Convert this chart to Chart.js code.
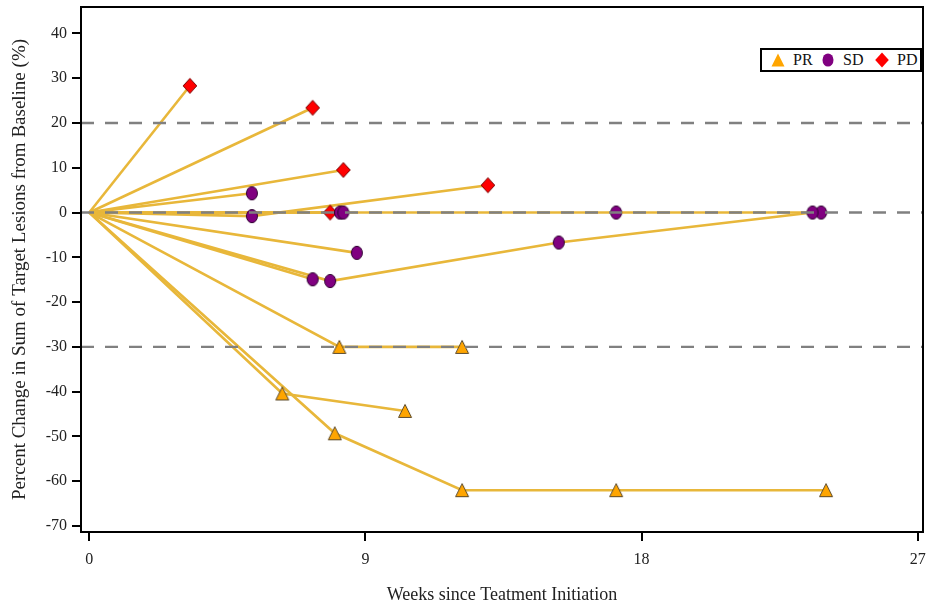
<!DOCTYPE html>
<html>
<head>
<meta charset="utf-8">
<script src="https://cdn.jsdelivr.net/npm/chart.js@4"></script>
<style>
  html, body { margin: 0; padding: 0; background: #fff; }
  #wrap { position: relative; width: 928px; height: 607px; }
  #legend {
    position: absolute; left: 760px; top: 48px; width: 162px; height: 24px;
    box-sizing: border-box; border: 2px solid #000; background: #fff;
    font-family: "Liberation Serif", serif; font-size: 16px; color: #111;
  }
  #legend .item { position: absolute; top: 0; height: 20px; display: flex; align-items: center; }
  #legend img { margin-right: 7px; }
</style>
</head>
<body>
<div id="wrap">
  <canvas id="waterfall" width="928" height="607"></canvas>
  <div id="legend"></div>
</div>
<script>
// DATA (one row per patient, first point is baseline)
const weeks = [
    [0, 3.28],
    [0, 7.28],
    [0, 8.28],
    [0, 5.30],
    [0, 5.30, 12.99],
    [0, 7.85],
    [0, 8.17],
    [0, 8.28, 17.17, 23.85],
    [0, 8.72],
    [0, 7.28],
    [0, 7.85, 15.30, 23.57],
    [0, 8.15, 12.15],
    [0, 6.29, 10.29],
    [0, 8.00, 12.15, 17.17, 24.01]
];
const pctChange = [
    [0, 28.3],
    [0, 23.4],
    [0, 9.5],
    [0, 4.3],
    [0, -0.8, 6.1],
    [0, 0],
    [0, 0],
    [0, 0, 0, 0],
    [0, -9.0],
    [0, -14.9],
    [0, -15.3, -6.7, 0],
    [0, -30, -30],
    [0, -40.4, -44.3],
    [0, -49.3, -62, -62, -62]
];
const response = [
    [null, "PD"],
    [null, "PD"],
    [null, "PD"],
    [null, "SD"],
    [null, "SD", "PD"],
    [null, "PD"],
    [null, "SD"],
    [null, "SD", "SD", "SD"],
    [null, "SD"],
    [null, "SD"],
    [null, "SD", "SD", "SD"],
    [null, "PR", "PR"],
    [null, "PR", "PR"],
    [null, "PR", "PR", "PR", "PR"]
];
const categories = ["PR", "SD", "PD"];
const xTicks = [0, 9, 18, 27];
const yTicks = [-70, -60, -50, -40, -30, -20, -10, 0, 10, 20, 30, 40];
const refLines = [20, 0, -30];

const LINE_COLOR = "#e8b73a";
const SERIF = "'Liberation Serif', 'Times New Roman', serif";

// MARKERS
function makeMarker(shape, fill, stroke) {
    const c = document.createElement("canvas");
    c.width = 16;
    c.height = 18;
    const g = c.getContext("2d");
    g.beginPath();
    if (shape === "triangle") {
        g.moveTo(8, 2.5); g.lineTo(14.5, 15.5); g.lineTo(1.5, 15.5); g.closePath();
    } else if (shape === "ellipse") {
        g.ellipse(8, 9, 5.5, 6.6, 0, 0, Math.PI * 2);
    } else {
        g.moveTo(8, 1.5); g.lineTo(14.8, 9); g.lineTo(8, 16.5); g.lineTo(1.2, 9); g.closePath();
    }
    g.fillStyle = fill;
    g.fill();
    if (stroke) {
        g.lineWidth = 1;
        g.strokeStyle = stroke;
        g.stroke();
    }
    return c;
}

const markerStyle = {
    PR: makeMarker("triangle", "#ffa500", "#5c4a2a"),
    SD: makeMarker("ellipse", "#800080", "#2e0030"),
    PD: makeMarker("diamond", "#ff0000", "#7a0000")
};
const legendStyle = {
    PR: makeMarker("triangle", "#ffa500"),
    SD: makeMarker("ellipse", "#800080"),
    PD: makeMarker("diamond", "#ff0000")
};

// DATASETS
const datasets = [];

categories.forEach(function (cat) {
    const pts = [];
    weeks.forEach(function (row, i) {
        row.forEach(function (w, j) {
            if (response[i][j] === cat) pts.push({ x: w, y: pctChange[i][j] });
        });
    });
    datasets.push({
        type: "scatter",
        label: cat,
        data: pts,
        pointStyle: markerStyle[cat],
        pointRadius: 7,
        order: 0
    });
});

weeks.forEach(function (row, i) {
    datasets.push({
        type: "line",
        label: "patient " + (i + 1),
        data: row.map(function (w, j) { return { x: w, y: pctChange[i][j] }; }),
        borderColor: LINE_COLOR,
        borderWidth: 2.6,
        pointRadius: 0,
        tension: 0,
        fill: false,
        order: 1
    });
});

// PLUGINS
const refLinePlugin = {
    id: "refLines",
    afterDatasetsDraw(chart) {
        const { ctx, chartArea, scales } = chart;
        ctx.save();
        ctx.strokeStyle = "#808080";
        ctx.lineWidth = 2.4;
        ctx.setLineDash([13, 11]);
        refLines.forEach(function (v) {
            const y = scales.y.getPixelForValue(v);
            ctx.beginPath();
            ctx.moveTo(chartArea.left, y);
            ctx.lineTo(chartArea.right, y);
            ctx.stroke();
        });
        ctx.restore();
    }
};

const framePlugin = {
    id: "frame",
    afterDraw(chart) {
        const { ctx, chartArea } = chart;
        ctx.save();
        ctx.strokeStyle = "#000";
        ctx.lineWidth = 2;
        ctx.strokeRect(chartArea.left, chartArea.top, chartArea.right - chartArea.left, chartArea.bottom - chartArea.top);
        ctx.restore();
    }
};

// no extra room for overhanging tick labels
function noLabelPadding(s) {
    s.paddingLeft = 0;
    s.paddingRight = 0;
    s.paddingTop = 0;
    s.paddingBottom = 0;
}

// CHART
new Chart(document.getElementById("waterfall"), {
    data: { datasets: datasets },
    plugins: [refLinePlugin, framePlugin],
    options: {
        responsive: false,
        animation: false,
        layout: { autoPadding: false, padding: { top: 7, right: 5, left: 0, bottom: 0 } },
        plugins: {
            legend: { display: false },
            tooltip: { enabled: false }
        },
        scales: {
            x: {
                type: "linear",
                min: -0.27,
                max: 27.17,
                afterBuildTicks: function (s) { s.ticks = xTicks.map(function (v) { return { value: v }; }); },
                afterFit: function (s) { s.height = 75; noLabelPadding(s); },
                ticks: { font: { family: SERIF, size: 16 }, color: "#222", padding: 9, maxRotation: 0, autoSkip: false },
                grid: { drawOnChartArea: false, tickLength: 9, color: "#000", lineWidth: 2 },
                border: { display: false },
                title: {
                    display: true,
                    text: "Weeks since Teatment Initiation",
                    font: { family: SERIF, size: 18 },
                    color: "#222",
                    padding: { top: 0, bottom: 1 }
                }
            },
            y: {
                type: "linear",
                min: -71.34,
                max: 45.9,
                afterBuildTicks: function (s) { s.ticks = yTicks.map(function (v) { return { value: v }; }); },
                afterFit: function (s) { s.width = 81; noLabelPadding(s); },
                ticks: { font: { family: SERIF, size: 16 }, color: "#222", padding: 5, autoSkip: false },
                grid: { drawOnChartArea: false, tickLength: 9, color: "#000", lineWidth: 2 },
                border: { display: false },
                title: {
                    display: true,
                    text: "Percent Change in Sum of Target Lesions from Baseline (%)",
                    font: { family: SERIF, size: 19 },
                    color: "#222",
                    padding: { top: 9, bottom: 0 }
                }
            }
        }
    }
});

// LEGEND
const legendBox = document.getElementById("legend");
const legendX = [8, 58, 112];
categories.forEach(function (cat, i) {
    const item = document.createElement("div");
    item.className = "item";
    item.style.left = legendX[i] + "px";
    const img = document.createElement("img");
    img.src = legendStyle[cat].toDataURL();
    img.width = 16;
    img.height = 18;
    item.appendChild(img);
    item.appendChild(document.createTextNode(cat));
    legendBox.appendChild(item);
});
</script>
</body>
</html>
